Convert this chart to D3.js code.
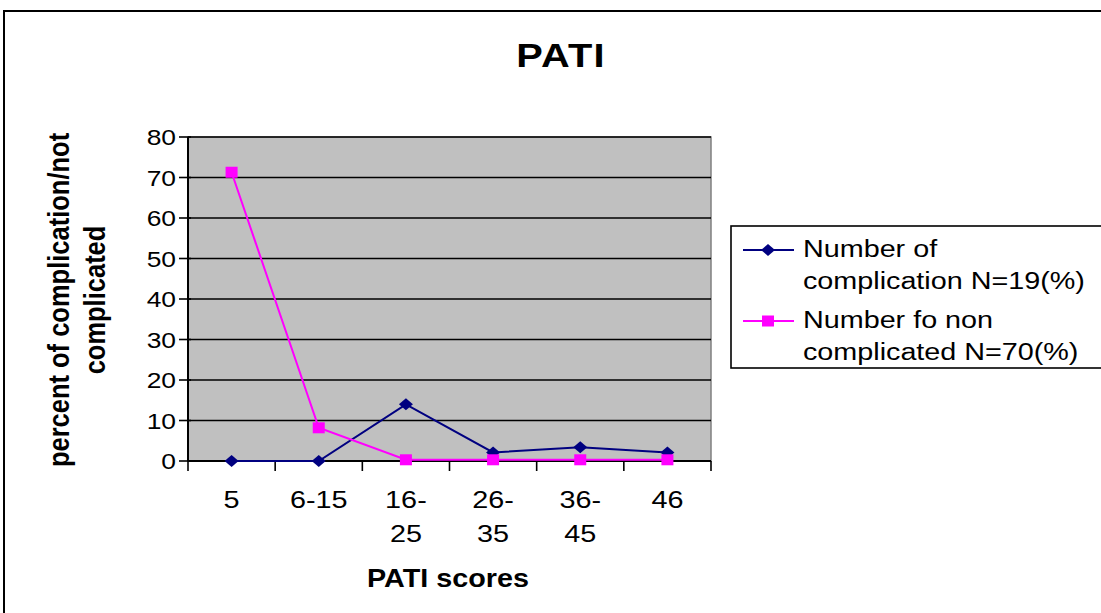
<!DOCTYPE html>
<html><head><meta charset="utf-8">
<script src="https://cdn.jsdelivr.net/npm/d3@7"></script>
<style>body{margin:0;background:#fff}svg{display:block;font-family:"Liberation Sans",Arial,sans-serif}</style>
</head><body>
<svg id="c" width="1101" height="613"></svg>
<script>
const categories = ["5","6-15","16-25","26-35","36-45","46"];
const categoryLines = [["5"],["6-15"],["16-","25"],["26-","35"],["36-","45"],["46"]];
const complicated = [0, 0, 14, 2.1, 3.4, 2.1];
const nonComplicated = [71.3, 8.2, 0.3, 0.3, 0.3, 0.3];
const yTicks = [0,10,20,30,40,50,60,70,80];
const seriesNames = [["Number of","complication N=19(%)"],["Number fo non","complicated N=70(%)"]];

const svg = d3.select("#c");
const SX = 1.2;
function txt(g, x, y, s, size, opts={}) {
  const t = g.append("text")
    .attr("transform", `translate(${x},${y}) scale(${opts.sx||SX},1)` + (opts.rot ? ` rotate(${opts.rot})` : ""))
    .attr("font-size", size)
    .attr("font-weight", opts.bold ? "bold" : "normal")
    .attr("text-anchor", opts.anchor || "middle")
    .attr("fill", "#000")
    .text(s);
  if (opts.ls) t.attr("letter-spacing", opts.ls);
  if (opts.db) t.attr("dominant-baseline", opts.db);
  return t;
}

// outer border
svg.append("rect").attr("x",4).attr("y",11).attr("width",1200).attr("height",700)
  .attr("fill","#fff").attr("stroke","#000").attr("stroke-width",2);

const x = d3.scaleBand().domain(categories).range([188,711]).padding(0);
const y = d3.scaleLinear().domain([0,80]).range([461,137]);
const cx = c => x(c) + x.bandwidth()/2;

// plot area
svg.append("rect").attr("x",x.range()[0]).attr("y",y(80)).attr("width",x.range()[1]-x.range()[0])
  .attr("height",y(0)-y(80)).attr("fill","#c0c0c0").attr("stroke","#808080").attr("stroke-width",1.5);

// gridlines
svg.append("g").selectAll("line").data(yTicks.filter(d=>d>0)).join("line")
  .attr("x1",188).attr("x2",711).attr("y1",d=>y(d)).attr("y2",d=>y(d))
  .attr("stroke","#000").attr("stroke-width",1.6);

// y axis
const ga = svg.append("g");
ga.append("line").attr("x1",188).attr("x2",188).attr("y1",y(80)).attr("y2",y(0)).attr("stroke","#000").attr("stroke-width",2);
ga.selectAll("line.t").data(yTicks).join("line").attr("class","t")
  .attr("x1",179).attr("x2",191).attr("y1",d=>y(d)).attr("y2",d=>y(d)).attr("stroke","#000").attr("stroke-width",1.6);
yTicks.forEach(d => txt(ga, 176, y(d)+8, String(d), 22, {anchor:"end"}));

// x axis
ga.append("line").attr("x1",188).attr("x2",711).attr("y1",y(0)).attr("y2",y(0)).attr("stroke","#000").attr("stroke-width",2);
const bounds = categories.map(c=>x(c)).concat([x.range()[1]]);
ga.selectAll("line.xt").data(bounds).join("line").attr("class","xt")
  .attr("x1",d=>d).attr("x2",d=>d).attr("y1",y(0)).attr("y2",y(0)+10).attr("stroke","#000").attr("stroke-width",1.6);
categories.forEach((c,i) => categoryLines[i].forEach((l,j) => txt(ga, cx(c), 508 + j*34, l, 24)));

// titles
txt(svg, 561, 67, "PATI", 34, {bold:true, sx:1.17, ls:1});
txt(svg, 448, 587, "PATI scores", 25, {bold:true, sx:1.15});
txt(svg, 69, 300, "percent of complication/not", 25.5, {bold:true, rot:-90, sx:1.15});
txt(svg, 105, 300, "complicated", 25.5, {bold:true, rot:-90, sx:1.15});

// series
const line = d3.line().x((d,i)=>cx(categories[i])).y(d=>y(d));
const BLUE = "#000080", PINK = "#ff00ff";
svg.append("path").datum(complicated).attr("d",line).attr("fill","none").attr("stroke",BLUE).attr("stroke-width",2);
const diamond = (g, px, py) => g.append("path")
  .attr("d", `M${px},${py-6}L${px+7},${py}L${px},${py+6}L${px-7},${py}Z`).attr("fill",BLUE);
complicated.forEach((v,i)=>diamond(svg, cx(categories[i]), y(v)));
svg.append("path").datum(nonComplicated).attr("d",line).attr("fill","none").attr("stroke",PINK).attr("stroke-width",2);
const square = (g, px, py) => g.append("rect").attr("x",px-6).attr("y",py-5.5).attr("width",12).attr("height",11).attr("fill",PINK);
nonComplicated.forEach((v,i)=>square(svg, cx(categories[i]), y(v)));

// legend
const lg = svg.append("g");
lg.append("rect").attr("x",731).attr("y",226).attr("width",500).attr("height",142)
  .attr("fill","#fff").attr("stroke","#000").attr("stroke-width",1.6);
const legY = [250, 321];
[BLUE, PINK].forEach((col,k) => {
  lg.append("line").attr("x1",743).attr("x2",794).attr("y1",legY[k]).attr("y2",legY[k]).attr("stroke",col).attr("stroke-width",2);
  if (k===0) diamond(lg, 768, legY[k]); else square(lg, 768, legY[k]);
  seriesNames[k].forEach((l,j)=>txt(lg, 803, legY[k]+7 + j*32, l, 23, {anchor:"start", sx:1.25}));
});
</script>
</body></html>
